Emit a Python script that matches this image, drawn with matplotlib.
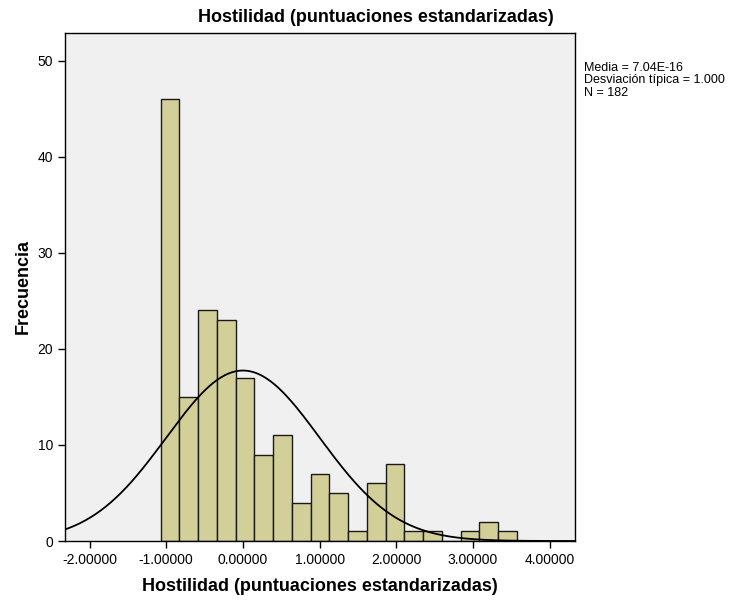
import numpy as np
import matplotlib.pyplot as plt

plt.rcParams['font.family'] = ['Liberation Sans', 'DejaVu Sans']

# histogram
bin_start = -1.0716
bin_width = 0.2444
counts = [46, 15, 24, 23, 17, 9, 11, 4, 7, 5, 1, 6, 8, 1, 1, 0, 1, 2, 1]
n_total = 182
media = 0.0
desv = 1.0
xticks = [-2, -1, 0, 1, 2, 3, 4]
yticks = [0, 10, 20, 30, 40, 50]

edges = bin_start + bin_width * np.arange(len(counts) + 1)

fig = plt.figure(figsize=(7.39, 6), dpi=100)
ax = fig.add_axes([0.088, 0.0983, 0.69, 0.847])
ax.set_facecolor('#F0F0F0')

ax.bar(edges[:-1], counts, width=bin_width, align='edge',
       color='#D3CF98', edgecolor='#1a1a1a', linewidth=1.0)

xmin, xmax = -2.32, 4.33
xs = np.linspace(xmin, xmax, 400)
pdf = np.exp(-0.5 * ((xs - media) / desv) ** 2) / (desv * np.sqrt(2 * np.pi))
ax.plot(xs, n_total * bin_width * pdf, color='black', linewidth=1.3)

ax.set_xlim(xmin, xmax)
ax.set_ylim(0, 52.9)
ax.set_xticks(xticks)
ax.set_xticklabels(['%.5f' % t for t in xticks])
ax.set_yticks(yticks)
ax.tick_params(labelsize=10, length=5, width=1, colors='black')
for s in ax.spines.values():
    s.set_color('black')
    s.set_linewidth(1)

fig.text(376 / 739, 1 - 18 / 600, 'Hostilidad (puntuaciones estandarizadas)',
         fontsize=13, fontweight='bold', ha='center', va='center')
ax.set_xlabel('Hostilidad (puntuaciones estandarizadas)', fontsize=13,
              fontweight='bold', labelpad=8)
ax.set_ylabel('Frecuencia', fontsize=13, fontweight='bold', labelpad=4)

fig.text(584 / 739, 1 - 62 / 600,
         'Media = 7.04E-16\nDesviación típica = 1.000\nN = 182',
         fontsize=9, va='top', ha='left', linespacing=1.04)

fig.savefig('out.png', dpi=100)
